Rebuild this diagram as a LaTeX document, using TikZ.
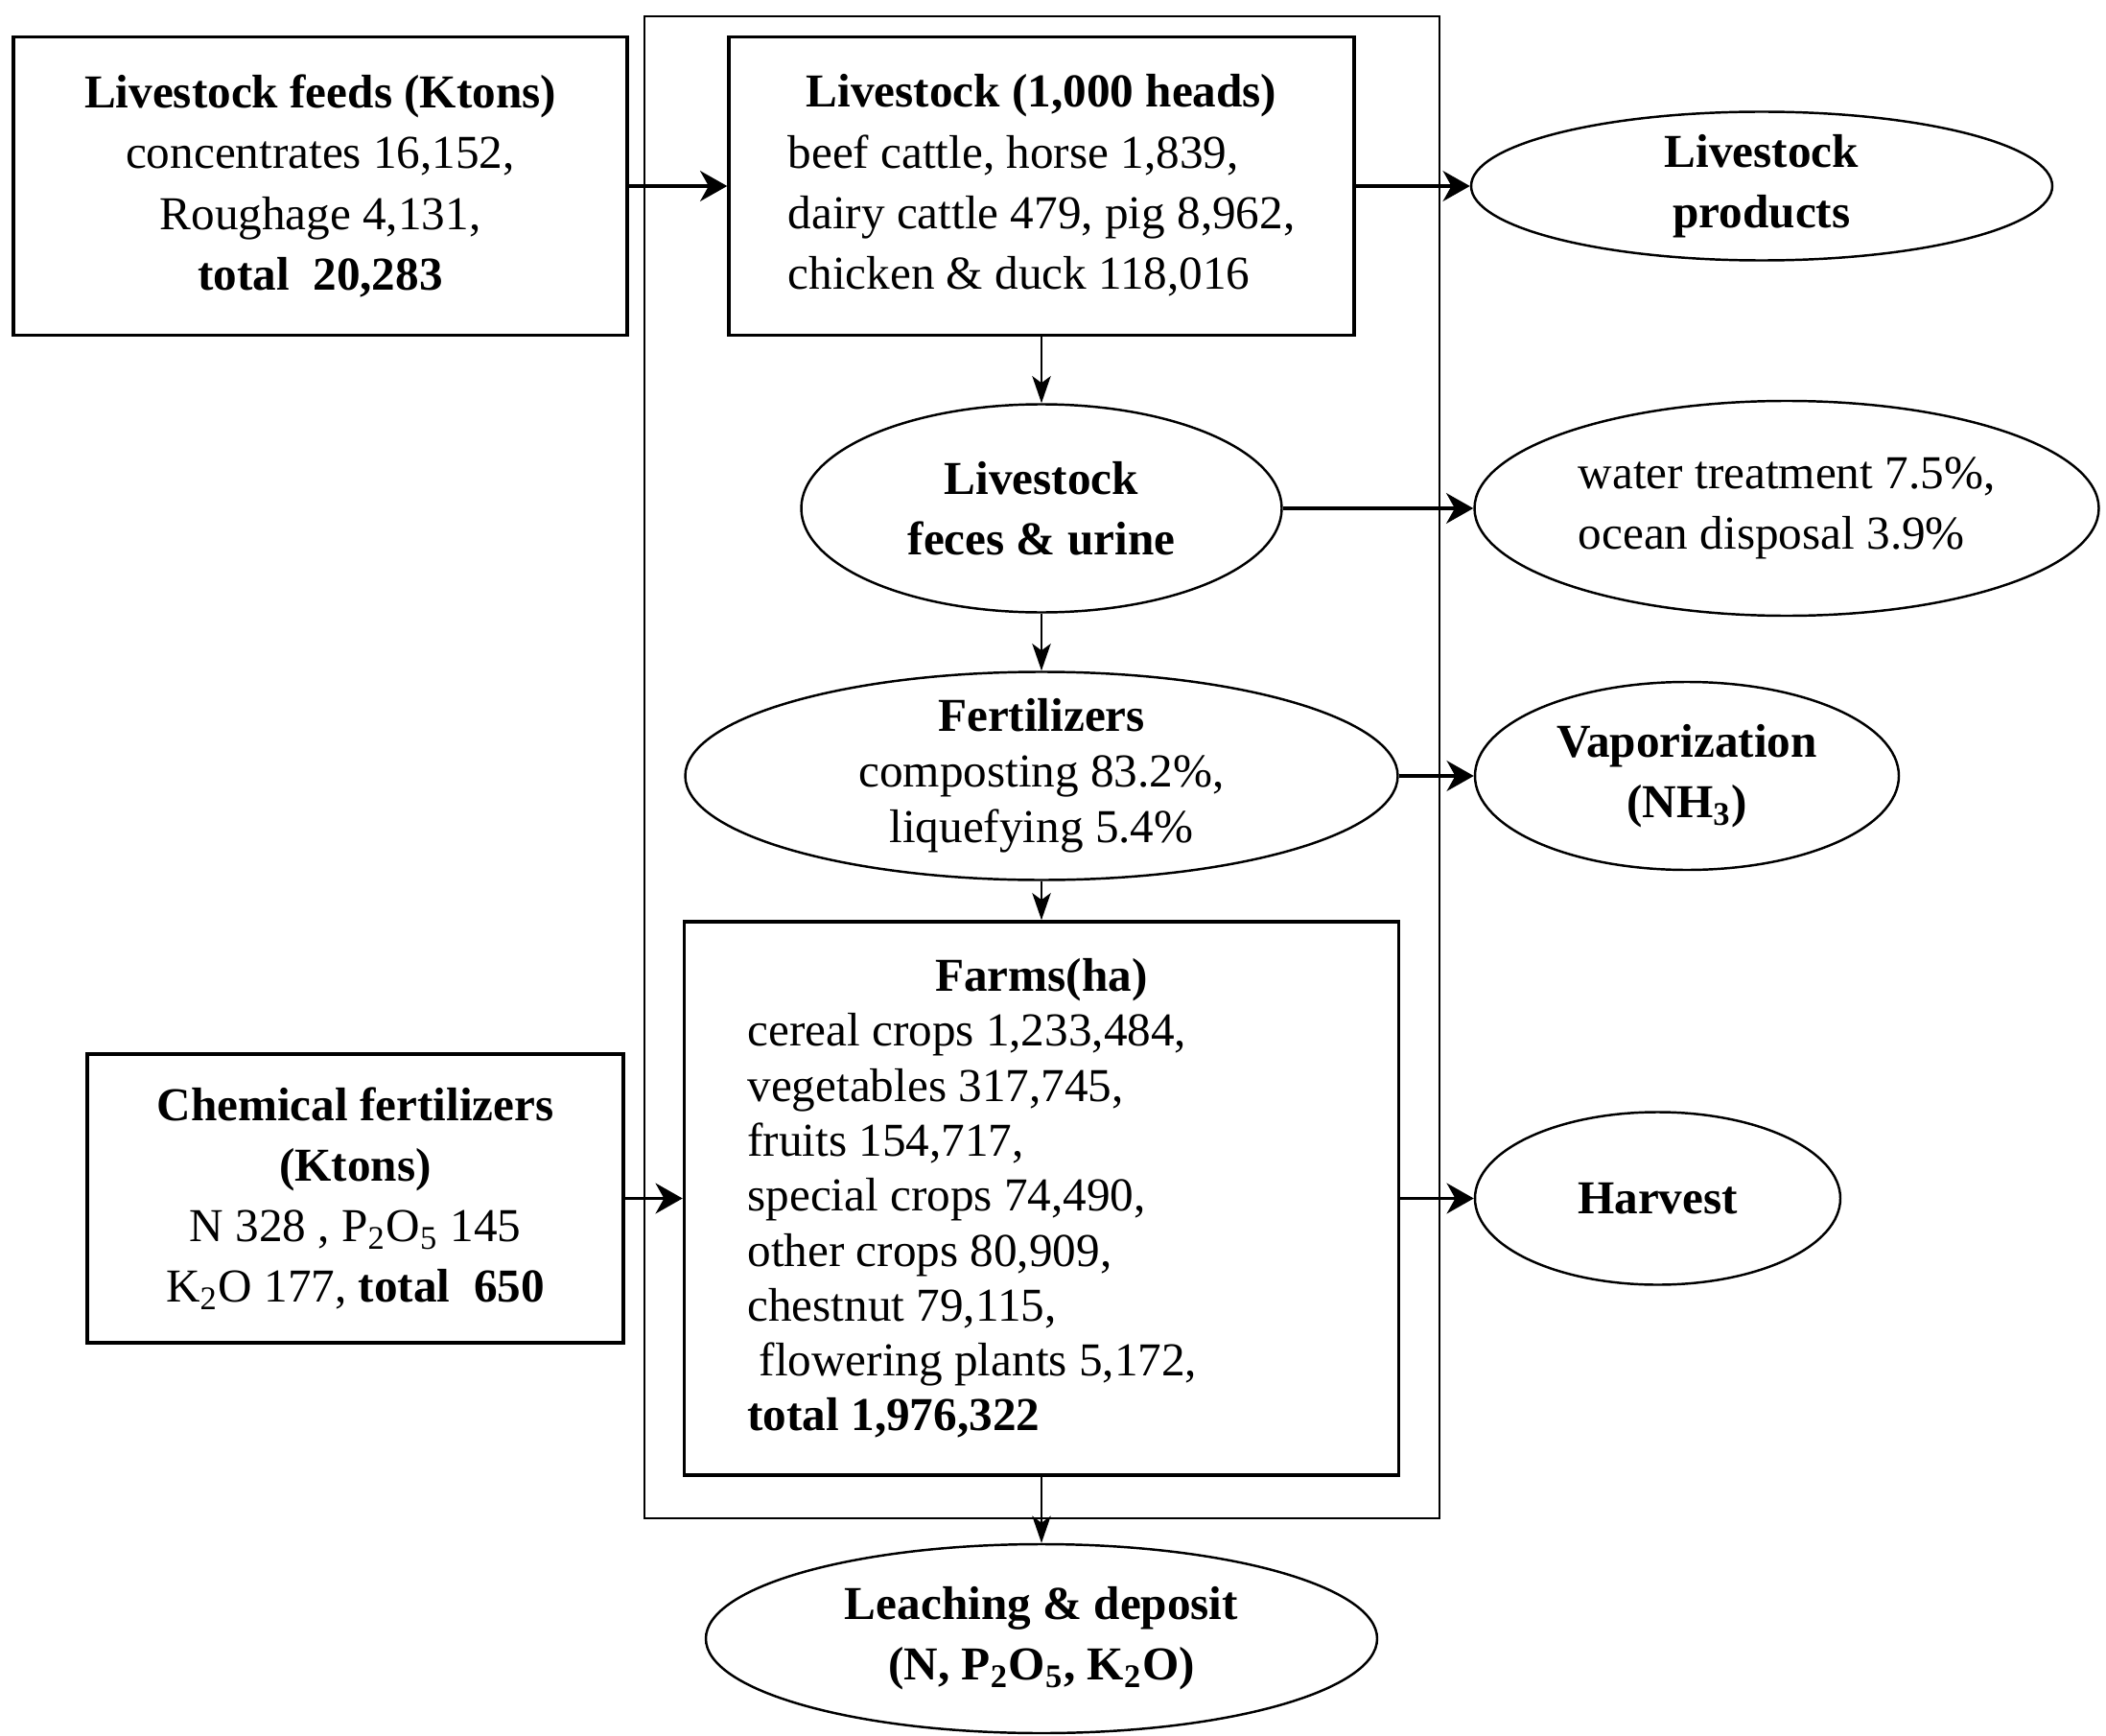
\documentclass[tikz,border=0pt]{standalone}
\usepackage{fontspec}
\setmainfont{Liberation Serif}
\usetikzlibrary{arrows.meta,shapes.geometric}

\begin{document}
\begin{tikzpicture}[
    box/.style={draw, line width=1pt, inner sep=0pt, align=center, font=\fontsize{14}{18}\selectfont},
    oval/.style={draw, ellipse, line width=0.7pt, inner sep=0pt, align=center, font=\fontsize{14}{18}\selectfont},
    frame/.style={draw, line width=0.8pt, inner sep=0pt},
    arr/.style={-{Stealth[length=8pt, width=9pt, inset=2.5pt]}, line width=1.1pt},
    varr/.style={-{Stealth[length=8pt, width=5.5pt, inset=2pt]}, line width=0.6pt}
]
\useasboundingbox (0,0) rectangle (21.96,-18.10);

\node[frame, minimum width=8.29cm, minimum height=15.66cm] (frame) at (10.865,-8.00) {};

\node[box, minimum width=6.40cm, minimum height=3.11cm] (feeds) at (3.34,-1.94)
  {\textbf{Livestock feeds (Ktons)}\\concentrates 16,152,\\Roughage 4,131,\\\textbf{total\ \ 20,283}};
\node[box, minimum width=6.52cm, minimum height=3.11cm] (stock) at (10.86,-1.94)
  {\begin{tabular}{@{}l@{}}\multicolumn{1}{@{}c@{}}{\textbf{Livestock (1,000 heads)}}\\beef cattle, horse 1,839,\\dairy cattle 479, pig 8,962,\\chicken \& duck 118,016\end{tabular}};
\node[oval, minimum width=6.06cm, minimum height=1.55cm] (prod) at (18.37,-1.94)
  {\textbf{Livestock}\\\textbf{products}};

\node[oval, minimum width=5.01cm, minimum height=2.17cm] (feces) at (10.86,-5.30)
  {\textbf{Livestock}\\\textbf{feces \& urine}};
\node[oval, minimum width=6.51cm, minimum height=2.24cm, align=left] (water) at (18.63,-5.30)
  {water treatment 7.5\%,\\ocean disposal 3.9\%};

\node[oval, minimum width=7.43cm, minimum height=2.17cm, inner ysep=-1.5pt, font=\fontsize{14}{16.5}\selectfont] (fert) at (10.86,-8.09)
  {\textbf{Fertilizers}\\composting 83.2\%,\\liquefying 5.4\%};
\node[oval, minimum width=4.42cm, minimum height=1.96cm] (vapor) at (17.59,-8.09)
  {\textbf{Vaporization}\\\textbf{(NH\textsubscript{3})}};

\node[box, minimum width=7.45cm, minimum height=5.77cm, align=left, font=\fontsize{14}{16.3}\selectfont] (farms) at (10.86,-12.495)
  {\makebox[6.13cm]{\textbf{Farms(ha)}}\\cereal crops 1,233,484,\\vegetables 317,745,\\fruits 154,717,\\special crops 74,490,\\other crops 80,909,\\chestnut 79,115,\\\ flowering plants 5,172,\\\textbf{total 1,976,322}};
\node[box, minimum width=5.59cm, minimum height=3.01cm] (chem) at (3.705,-12.495)
  {\textbf{Chemical fertilizers}\\\textbf{(Ktons)}\\N 328 , P\textsubscript{2}O\textsubscript{5} 145\\K\textsubscript{2}O 177, \textbf{total\ \ 650}};
\node[oval, minimum width=3.81cm, minimum height=1.80cm] (harvest) at (17.285,-12.495)
  {\textbf{Harvest}};

\node[oval, minimum width=7.00cm, minimum height=1.97cm] (leach) at (10.86,-17.085)
  {\textbf{Leaching \& deposit}\\\textbf{(N, P\textsubscript{2}O\textsubscript{5}, K\textsubscript{2}O)}};

\draw[arr] (feeds) -- (stock);
\draw[arr] (stock) -- (prod);
\draw[arr] (feces) -- (water);
\draw[arr] (fert) -- (vapor);
\draw[arr] (chem) -- (farms);
\draw[arr] (farms) -- (harvest);
\draw[varr] (stock) -- (feces);
\draw[varr] (feces) -- (fert);
\draw[varr] (fert) -- (farms);
\draw[varr] (farms) -- (leach);
\end{tikzpicture}
\end{document}
